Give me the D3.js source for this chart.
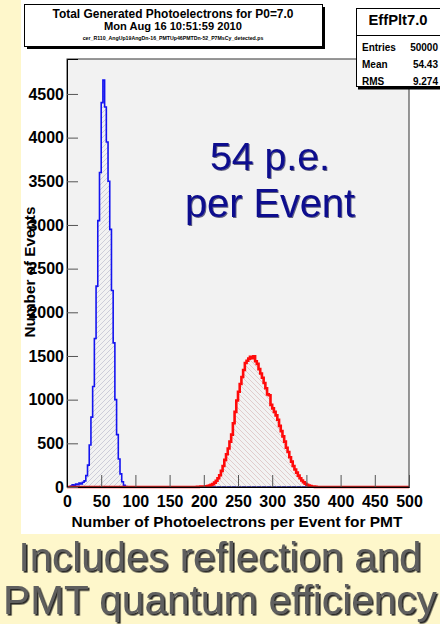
<!DOCTYPE html>
<html><head><meta charset="utf-8">
<script src="https://cdn.jsdelivr.net/npm/d3@7"></script>
<style>html,body{margin:0;padding:0;background:#fef7cb;} svg{display:block;}</style>
</head><body>
<svg id="c" width="440" height="624"></svg>
<script>
// Histogram binning: 200 bins of 2.5 p.e. over [0, 500]
const binWidth = 2.5;
const xDomain = [0, 500];
const yDomain = [0, 4900];
const xTicks = [0, 50, 100, 150, 200, 250, 300, 350, 400, 450, 500];
const yTicks = [0, 500, 1000, 1500, 2000, 2500, 3000, 3500, 4000, 4500];

// EffPlt7.0 (blue): bin contents starting at the 0 p.e. edge
const blueFirstEdge = 0;
const blueCounts = [0, 0, 10, 25, 15, 35, 25, 45, 35, 55, 70, 130, 250, 480, 800, 1150,
  1700, 2300, 3050, 3600, 4400, 4660, 4350, 3950, 3500, 2950, 2250, 1650, 1000, 600,
  320, 150, 60, 20, 5];

// Second histogram (red): bin contents starting at the 190 p.e. edge
const redFirstEdge = 190;
const redCounts = [2, 3, 4, 5, 6, 9, 12, 16, 24, 33, 50, 72, 100, 135, 185, 240, 310, 375,
  440, 520, 600, 730, 860, 990, 1090, 1180, 1260, 1340, 1420, 1445, 1470, 1490, 1475, 1495,
  1440, 1410, 1350, 1300, 1250, 1190, 1130, 1060, 1050, 940, 900, 860, 820, 770, 700, 640,
  580, 520, 450, 400, 340, 290, 240, 200, 165, 130, 100, 75, 55, 38, 25, 16, 10, 6, 4, 2];

const titleLines = ["Total Generated Photoelectrons for P0=7.0", "Mon Aug 16 10:51:59 2010",
  "cer_R110_AngUp19AngDn-16_PMTUp46PMTDn-52_P7MsCy_detected.ps"];
const statsName = "EffPlt7.0";
const statsRows = [["Entries", "50000"], ["Mean", "54.43"], ["RMS", "9.274"]];
const xTitle = "Number of Photoelectrons per Event for PMT";
const yTitle = "Number of Events";
const noteLines = ["54 p.e.", "per Event"];
const captionLines = ["Includes reflection and", "PMT quantum efficiency"];

const FONT = "'Liberation Sans', Arial, Helvetica, sans-serif";
const svg = d3.select("#c");

// scale a text's font size so the string spans the given width
function fit(sel, w) {
  const fs = parseFloat(sel.attr("font-size"));
  const cur = sel.node().getComputedTextLength();
  sel.attr("font-size", (fs * w / cur).toFixed(2));
  return sel;
}

// canvas
svg.append("rect").attr("x", 21).attr("y", 0).attr("width", 419).attr("height", 534).attr("fill", "#ffffff");

const L = 67, R = 409, T = 59, B = 487;
const x = d3.scaleLinear().domain(xDomain).range([L, R]);
const y = d3.scaleLinear().domain(yDomain).range([B, T]);

const defs = svg.append("defs");
// hatch patterns
defs.append("pattern").attr("id", "hatchF").attr("patternUnits", "userSpaceOnUse")
  .attr("width", 5).attr("height", 5)
  .append("path").attr("d", "M0,5 L5,0 M-1,1 L1,-1 M4,6 L6,4")
  .attr("stroke", "#bdbdcf").attr("stroke-width", 0.7);
defs.append("pattern").attr("id", "hatchB").attr("patternUnits", "userSpaceOnUse")
  .attr("width", 5).attr("height", 5)
  .append("path").attr("d", "M0,0 L5,5 M-1,4 L1,6 M4,-1 L6,1")
  .attr("stroke", "#d9bcbc").attr("stroke-width", 0.7);
// text shadows
const shadow = (id, dx, dy, col, op) => defs.append("filter").attr("id", id)
  .attr("x", "-5%").attr("y", "-10%").attr("width", "115%").attr("height", "130%")
  .append("feDropShadow").attr("dx", dx).attr("dy", dy).attr("stdDeviation", 0.4)
  .attr("flood-color", col).attr("flood-opacity", op);
shadow("capShadow", 1.6, 1.6, "#1a1a1a", 0.95);
shadow("noteShadow", 1, 1, "#000030", 0.6);

// plot pad background
svg.append("rect").attr("x", L).attr("y", T).attr("width", R - L).attr("height", B - T).attr("fill", "#f2f2f2");

const nBins = Math.round((xDomain[1] - xDomain[0]) / binWidth);
function fullBins(first, counts) {
  const off = Math.round((first - xDomain[0]) / binWidth);
  const arr = [];
  for (let i = 0; i < nBins; i++) {
    const j = i - off;
    arr.push({ x0: xDomain[0] + i * binWidth, c: (j >= 0 && j < counts.length) ? counts[j] : 0 });
  }
  arr.push({ x0: xDomain[1], c: arr[arr.length - 1].c });
  return arr;
}
const blue = fullBins(blueFirstEdge, blueCounts);
const red = fullBins(redFirstEdge, redCounts);

const area = d3.area().curve(d3.curveStepAfter).x(d => x(d.x0)).y0(y(0)).y1(d => y(d.c));
const line = d3.line().curve(d3.curveStepAfter).x(d => x(d.x0)).y(d => y(d.c));

svg.append("path").datum(blue).attr("d", area).attr("fill", "url(#hatchF)");
svg.append("path").datum(blue).attr("d", line).attr("fill", "none").attr("stroke", "#1414f0").attr("stroke-width", 1.6);
svg.append("path").datum(red).attr("d", area).attr("fill", "url(#hatchB)");
svg.append("path").datum(red).attr("d", line).attr("fill", "none").attr("stroke", "#ff0a0a").attr("stroke-width", 2.6);

// frame
svg.append("rect").attr("x", L).attr("y", T).attr("width", R - L).attr("height", B - T)
  .attr("fill", "none").attr("stroke", "#333").attr("stroke-width", 1);

// axes: ticks drawn inward
const minorX = d3.range(xDomain[0], xDomain[1] + 0.1, 10);
const minorY = d3.range(0, yDomain[1], 100);
const gx = svg.append("g").attr("transform", `translate(0,${B})`);
gx.call(d3.axisBottom(x).tickValues(minorX).tickSize(-6).tickFormat(""))
  .call(g => g.select(".domain").remove());
gx.call(d3.axisBottom(x).tickValues(xTicks).tickSize(-12).tickPadding(9).tickFormat(d3.format("d")));
const gy = svg.append("g").attr("transform", `translate(${L},0)`);
gy.call(d3.axisLeft(y).tickValues(minorY).tickSize(-6).tickFormat(""))
  .call(g => g.select(".domain").remove());
gy.call(d3.axisLeft(y).tickValues(yTicks).tickSize(-11).tickPadding(3).tickFormat(d3.format("d")));
svg.selectAll(".tick line").attr("stroke", "#555");
svg.selectAll(".domain").attr("stroke", "#000");
svg.selectAll(".tick text").attr("font-family", FONT).attr("font-weight", "bold")
  .attr("font-size", 16).attr("fill", "#000");

// axis titles
fit(svg.append("text").attr("x", 237).attr("y", 527).attr("text-anchor", "middle")
  .attr("font-family", FONT).attr("font-weight", "bold").attr("font-size", 15).text(xTitle), 331);
fit(svg.append("text").attr("transform", "translate(35,272) rotate(-90)").attr("text-anchor", "middle")
  .attr("font-family", FONT).attr("font-weight", "bold").attr("font-size", 14).text(yTitle), 131);

// annotation
[[170, 120], [216.5, 170]].forEach(([by, w], i) => {
  fit(svg.append("text").attr("x", 270).attr("y", by).attr("text-anchor", "middle")
    .attr("font-family", FONT).attr("font-size", 38).attr("fill", "#0c0c8e")
    .attr("filter", "url(#noteShadow)").text(noteLines[i]), w);
});

// title box
svg.append("rect").attr("x", 27).attr("y", 7).attr("width", 298).attr("height", 42).attr("fill", "#000");
svg.append("rect").attr("x", 24.5).attr("y", 4.5).attr("width", 298).attr("height", 42)
  .attr("fill", "#fff").attr("stroke", "#000").attr("stroke-width", 1);
[[17.5, 12, 241], [29.5, 8, 138], [40, 6, 181]].forEach(([by, fs, w], i) => {
  fit(svg.append("text").attr("x", 173).attr("y", by).attr("text-anchor", "middle")
    .attr("font-family", FONT).attr("font-weight", "bold").attr("font-size", fs).text(titleLines[i]), w);
});

// stats box
svg.append("rect").attr("x", 358).attr("y", 10).attr("width", 82).attr("height", 79.5).attr("fill", "#000");
svg.append("rect").attr("x", 356.5).attr("y", 8.5).attr("width", 84).attr("height", 78)
  .attr("fill", "#fff").attr("stroke", "#000").attr("stroke-width", 1);
svg.append("line").attr("x1", 356.5).attr("x2", 440).attr("y1", 35.5).attr("y2", 35.5).attr("stroke", "#000");
fit(svg.append("text").attr("x", 398).attr("y", 25).attr("text-anchor", "middle")
  .attr("font-family", FONT).attr("font-weight", "bold").attr("font-size", 14).text(statsName), 59);
statsRows.forEach(([k, v], i) => {
  const by = 50.5 + i * 17;
  svg.append("text").attr("x", 362).attr("y", by).attr("font-family", FONT).attr("font-weight", "bold")
    .attr("font-size", 10).text(k);
  svg.append("text").attr("x", 438).attr("y", by).attr("text-anchor", "end").attr("font-family", FONT)
    .attr("font-weight", "bold").attr("font-size", 10).text(v);
});

// caption
[[571, 403], [614, 434]].forEach(([by, w], i) => {
  fit(svg.append("text").attr("x", 220).attr("y", by).attr("text-anchor", "middle")
    .attr("font-family", FONT).attr("font-size", 40).attr("fill", "#5e5e5e")
    .attr("filter", "url(#capShadow)").text(captionLines[i]), w);
});
</script>
</body></html>
